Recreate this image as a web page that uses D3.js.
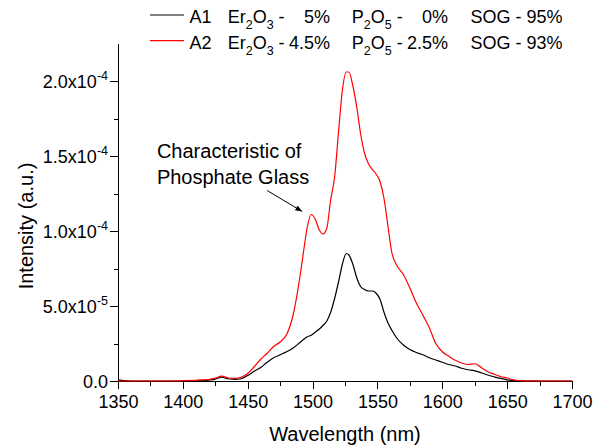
<!DOCTYPE html>
<html>
<head>
<meta charset="utf-8">
<script src="https://cdn.jsdelivr.net/npm/d3@7"></script>
<style>
  body { margin: 0; background: #fff; }
  svg { font-family: "Liberation Sans", Arial, sans-serif; }
</style>
</head>
<body>
<div id="chart"></div>
<script>
// wavelength grid (nm)
const wavelength = [1350, 1355, 1360, 1370, 1380, 1390, 1400, 1410, 1415, 1420, 1425, 1430, 1435, 1440, 1445,
  1450, 1455, 1460, 1465, 1470, 1475, 1480, 1485, 1490, 1493, 1496, 1499, 1502, 1505, 1508, 1511, 1514,
  1517, 1520, 1523, 1526, 1528, 1531, 1534, 1537, 1540, 1543, 1546, 1549, 1552, 1555, 1558, 1561, 1565,
  1570, 1575, 1580, 1585, 1590, 1595, 1600, 1605, 1610, 1615, 1620, 1625, 1630, 1635, 1640, 1645, 1650,
  1655, 1660, 1670, 1680, 1690, 1700];

// intensities in units of 1e-5
const a1 = [0.08, 0.02, 0, 0, 0, 0, 0, 0, 0.02, 0.06, 0.12, 0.25, 0.15, 0.1, 0.15,
  0.37, 0.65, 0.9, 1.25, 1.55, 1.75, 1.95, 2.2, 2.55, 2.77, 2.95, 3.05, 3.25, 3.45, 3.7, 4.0, 4.6,
  5.5, 6.6, 7.8, 8.5, 8.4, 7.8, 6.9, 6.3, 6.1, 6.0, 6.0, 5.85, 5.45, 4.6, 3.9, 3.4, 2.85,
  2.4, 2.1, 1.9, 1.75, 1.55, 1.4, 1.25, 1.1, 1.0, 0.85, 0.75, 0.68, 0.55, 0.4, 0.28, 0.17, 0.08,
  0.02, 0, 0, 0, 0, 0];

const a2 = [0, 0, 0, 0, 0, 0, 0.02, 0.05, 0.07, 0.1, 0.2, 0.32, 0.2, 0.17, 0.25,
  0.5, 0.95, 1.45, 1.85, 2.3, 2.6, 3.1, 4.4, 6.8, 8.6, 10.3, 11.1, 10.8, 10.1, 9.8, 10.2, 12.1,
  13.6, 16.6, 19.4, 20.6, 20.6, 19.7, 18.3, 16.5, 15.2, 14.5, 14.1, 13.8, 13.3, 12.2, 10.4, 8.6, 7.7,
  7.1, 6.2, 5.2, 4.4, 3.55, 2.5, 1.95, 1.65, 1.38, 1.2, 1.1, 1.15, 0.9, 0.62, 0.45, 0.3, 0.2,
  0.08, 0.03, 0.01, 0, 0, 0];

const seriesNames = ["A1", "A2"];
const seriesColors = ["#000000", "#ff0000"];
const erText = ["5%", "4.5%"];
const pText = ["0%", "2.5%"];
const sogText = ["95%", "93%"];

const xTicks = [1350, 1400, 1450, 1500, 1550, 1600, 1650, 1700];
const yTicks = [0, 5e-5, 1e-4, 1.5e-4, 2e-4];

const svgWidth = 606;
const svgHeight = 448;

const svg = d3.select("#chart")
  .append("svg")
  .attr("width", svgWidth)
  .attr("height", svgHeight);

const x = d3.scaleLinear().domain([1350, 1700]).range([118, 572]);
const y = d3.scaleLinear().domain([0, 2.25e-4]).range([381, 43.5]);

// x axis
const xMinor = svg.append("g")
  .attr("transform", `translate(0, ${y(0)})`)
  .call(d3.axisBottom(x).tickValues(d3.range(1375, 1700, 50)).tickSize(5).tickFormat(""));
xMinor.select(".domain").remove();
const xMajor = svg.append("g")
  .attr("transform", `translate(0, ${y(0)})`)
  .call(d3.axisBottom(x).tickValues(xTicks).tickSize(8).tickSizeOuter(0).tickPadding(6).tickFormat(d3.format("d")));
xMajor.selectAll("text").attr("font-size", 18).attr("fill", "#000").attr("font-family", null);

// y axis
const yMinor = svg.append("g")
  .attr("transform", `translate(${x(1350)}, 0)`)
  .call(d3.axisLeft(y).tickValues([2.5e-5, 7.5e-5, 1.25e-4, 1.75e-4]).tickSize(4).tickFormat(""));
yMinor.select(".domain").remove();
const yMajor = svg.append("g")
  .attr("transform", `translate(${x(1350)}, 0)`)
  .call(d3.axisLeft(y).tickValues(yTicks).tickSize(8).tickSizeOuter(0).tickPadding(2).tickFormat(""));

yMajor.selectAll(".tick text")
  .attr("font-size", 18)
  .attr("font-family", null)
  .attr("fill", "#000")
  .attr("dy", "0.34em")
  .each(function(d) {
    const t = d3.select(this);
    if (d === 0) {
      t.append("tspan").text("0.0");
      return;
    }
    const e = Math.floor(Math.log10(d) + 1e-9);
    const m = (d / Math.pow(10, e)).toFixed(1);
    t.append("tspan").text(m + "x10");
    t.append("tspan").attr("font-size", 12.5).attr("dy", -8).text(e);
  });

svg.selectAll(".domain, .tick line")
  .attr("stroke", "#000")
  .attr("stroke-width", 1)
  .attr("shape-rendering", "crispEdges");

// series
const line = d3.line()
  .x((d, i) => x(wavelength[i]))
  .y(d => y(d * 1e-5))
  .curve(d3.curveMonotoneX);

[a1, a2].forEach((s, i) => {
  svg.append("path")
    .datum(s)
    .attr("fill", "none")
    .attr("stroke", seriesColors[i])
    .attr("stroke-width", 1.2)
    .attr("d", line);
});

// axis titles
svg.append("text")
  .attr("x", (x(1350) + x(1700)) / 2)
  .attr("y", 441)
  .attr("text-anchor", "middle")
  .attr("font-size", 20)
  .text("Wavelength (nm)");

svg.append("text")
  .attr("transform", "translate(33, 226) rotate(-90)")
  .attr("text-anchor", "middle")
  .attr("font-size", 20)
  .text("Intensity (a.u.)");

// annotation
const note = svg.append("g").attr("font-size", 20);
note.append("text").attr("x", x(1380)).attr("y", 158).text("Characteristic of");
note.append("text").attr("x", x(1380)).attr("y", 184).text("Phosphate Glass");

svg.append("defs").append("marker")
  .attr("id", "arrow")
  .attr("viewBox", "0 0 10 10")
  .attr("refX", 10).attr("refY", 5)
  .attr("markerWidth", 7).attr("markerHeight", 7)
  .attr("orient", "auto")
  .append("path")
  .attr("d", "M0,1 L10,5 L0,9 z")
  .attr("fill", "#000");

svg.append("line")
  .attr("x1", x(1465)).attr("y1", y(12.7e-5))
  .attr("x2", x(1492)).attr("y2", y(11.3e-5))
  .attr("stroke", "#000")
  .attr("stroke-width", 1)
  .attr("marker-end", "url(#arrow)");

// legend
const legend = svg.append("g").attr("font-size", 18);
seriesNames.forEach((name, i) => {
  const ly = 15 + i * 25.7;
  const by = ly + 8;
  legend.append("line")
    .attr("x1", 150).attr("x2", 184)
    .attr("y1", ly).attr("y2", ly)
    .attr("stroke", seriesColors[i])
    .attr("stroke-width", 1.2);
  legend.append("text").attr("x", 189.5).attr("y", by).text(name);

  const er = legend.append("text").attr("x", 227.7).attr("y", by);
  er.append("tspan").text("Er");
  er.append("tspan").attr("font-size", 12.5).attr("dy", 6).text("2");
  er.append("tspan").attr("dy", -6).text("O");
  er.append("tspan").attr("font-size", 12.5).attr("dy", 6).text("3");
  er.append("tspan").attr("dy", -6).text(" -");
  legend.append("text").attr("x", 330).attr("y", by).attr("text-anchor", "end").text(erText[i]);

  const p = legend.append("text").attr("x", 351.7).attr("y", by);
  p.append("tspan").text("P");
  p.append("tspan").attr("font-size", 12.5).attr("dy", 6).text("2");
  p.append("tspan").attr("dy", -6).text("O");
  p.append("tspan").attr("font-size", 12.5).attr("dy", 6).text("5");
  p.append("tspan").attr("dy", -6).text(" -");
  legend.append("text").attr("x", 448).attr("y", by).attr("text-anchor", "end").text(pText[i]);

  legend.append("text").attr("x", 470.5).attr("y", by).text("SOG - " + sogText[i]);
});
</script>
</body>
</html>
